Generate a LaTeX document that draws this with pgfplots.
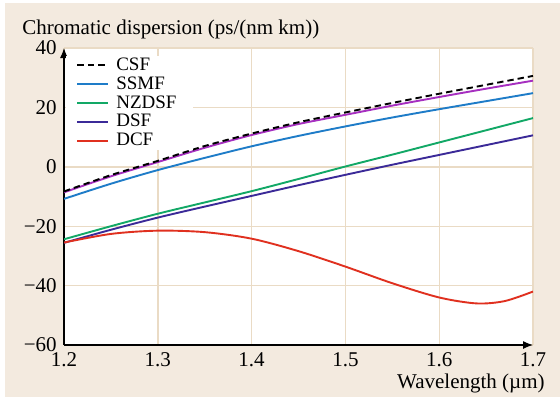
\documentclass[border=0pt]{standalone}
\usepackage{fontspec}
\setmainfont{Liberation Serif}
\usepackage{pgfplots}
\pgfplotsset{compat=1.18}
\usetikzlibrary{arrows.meta,backgrounds}
\definecolor{bgbeige}{HTML}{F3EADF}
\definecolor{gridbeige}{HTML}{EADBC5}
\definecolor{csfpurple}{HTML}{A62FC0}
\definecolor{ssmfblue}{HTML}{1E7CC8}
\definecolor{nzgreen}{HTML}{12A866}
\definecolor{dsfindigo}{HTML}{3B2A98}
\definecolor{dcfred}{HTML}{E0301F}

\begin{document}
\fontsize{10.5}{12}\selectfont
\begin{tikzpicture}
\useasboundingbox (-32pt,-28.5pt) rectangle (248pt,172.5pt);
\begin{axis}[
at={(0,0)},anchor=south west,
scale only axis,width=234.5pt,height=148.5pt,
xmin=1.2,xmax=1.7,ymin=-60,ymax=40,
enlargelimits=false,
axis lines=left,
axis line style={line width=0.6pt,-{Latex[length=5pt,width=4pt]}},
xtick={1.2,1.3,...,1.7},
ytick={-60,-40,-20,0,20,40},
xticklabels={1.2,1.3,1.4,1.5,1.6,1.7},
yticklabels={−60,−40,−20,0,20,40},
major tick length=0pt,
grid=major,
grid style={gridbeige,line width=0.7pt},
tick label style={font=\fontsize{10.5}{12}\selectfont},
ylabel={Chromatic dispersion (ps/(nm km))},
every axis y label/.style={at={(rel axis cs:0,1)},anchor=base west,inner sep=0pt,xshift=-21pt,yshift=7pt},
xlabel={Wavelength (µm)},
every axis x label/.style={at={(rel axis cs:1,0)},anchor=base east,inner sep=0pt,xshift=6pt,yshift=-21.5pt},
legend style={at={(rel axis cs:0,1)},anchor=north west,xshift=1pt,yshift=-4pt,
  draw=none,fill=white,font=\fontsize{9.5}{11}\selectfont,
  inner xsep=5pt,inner ysep=0pt,row sep=0.4pt,
  nodes={inner ysep=0pt,inner xsep=3.5pt,text height=7pt,text depth=2pt}},
legend cell align=left,
legend image code/.code={\draw[#1] (0pt,0pt) -- (15.5pt,0pt);},
every axis plot/.append style={line width=0.95pt,smooth},
]
\addplot[csfpurple,forget plot] coordinates {
(1.20,-8.6) (1.25,-3.2) (1.30,1.6) (1.35,6.4) (1.40,10.7) (1.45,14.4)
(1.50,17.5) (1.55,20.6) (1.60,23.5) (1.65,26.3) (1.70,29.0)};
\addplot[black,dash pattern=on 3.2pt off 2pt] coordinates {
(1.20,-8.3) (1.25,-2.8) (1.30,2.0) (1.35,7.0) (1.40,11.2) (1.45,15.0)
(1.50,18.3) (1.55,21.5) (1.60,24.6) (1.65,27.6) (1.70,30.6)};
\addlegendentry{CSF}
\addplot[ssmfblue] coordinates {
(1.20,-10.8) (1.25,-5.7) (1.30,-1.1) (1.35,3.0) (1.40,6.9) (1.45,10.4)
(1.50,13.6) (1.55,16.6) (1.60,19.4) (1.65,22.1) (1.70,24.8)};
\addlegendentry{SSMF}
\addplot[nzgreen] coordinates {
(1.20,-24.4) (1.25,-20.0) (1.30,-15.8) (1.35,-12.0) (1.40,-8.2) (1.45,-4.1)
(1.50,0.1) (1.55,4.1) (1.60,8.2) (1.65,12.3) (1.70,16.4)};
\addlegendentry{NZDSF}
\addplot[dsfindigo] coordinates {
(1.20,-25.6) (1.25,-21.2) (1.30,-17.1) (1.35,-13.4) (1.40,-9.8) (1.45,-6.2)
(1.50,-2.7) (1.55,0.7) (1.60,4.0) (1.65,7.3) (1.70,10.6)};
\addlegendentry{DSF}
\addplot[dcfred] coordinates {
(1.20,-25.5) (1.25,-22.6) (1.30,-21.5) (1.35,-22.0) (1.40,-24.2) (1.45,-28.4)
(1.50,-33.6) (1.55,-39.2) (1.60,-44.0) (1.64,-46.0) (1.67,-45.2) (1.70,-42.0)};
\addlegendentry{DCF}
\end{axis}
\begin{scope}[on background layer]
\fill[bgbeige] (-29.5pt,-26pt) rectangle (248pt,171pt);
\fill[white] (0,0) rectangle (234.5pt,148.5pt);
\end{scope}
\end{tikzpicture}
\end{document}
